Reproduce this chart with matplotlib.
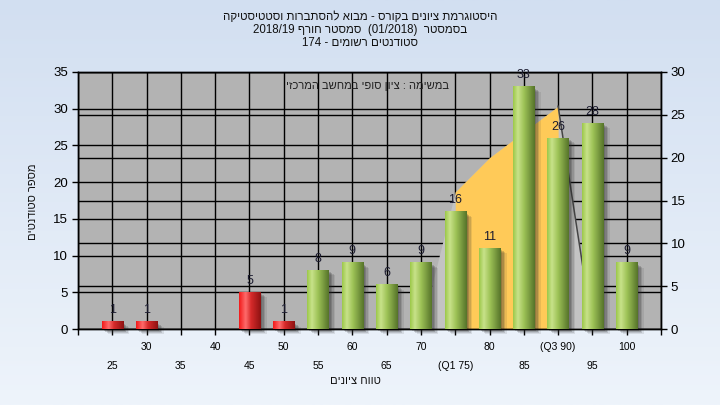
import re
import numpy as np
import matplotlib
matplotlib.use('Agg')
import matplotlib.pyplot as plt
from matplotlib.colors import LinearSegmentedColormap
from matplotlib.patches import Rectangle
from matplotlib.transforms import ScaledTranslation

FONT = ['Liberation Sans', 'DejaVu Sans']
plt.rcParams['font.family'] = FONT

# ---------------- data ----------------
title_lines = ["היסטוגרמת ציונים בקורס - מבוא להסתברות וסטטיסטיקה",
               "בסמסטר  (01/2018)  סמסטר חורף 2018/19",
               "סטודנטים רשומים - 174"]
note_text = "במשימה : ציון סופי במחשב המרכזי"
x_label = "טווח ציונים"
y_label = "מספר סטודנטים"

grades = [25, 30, 35, 40, 45, 50, 55, 60, 65, 70, 75, 80, 85, 90, 95, 100]
counts = [1, 1, 0, 0, 5, 1, 8, 9, 6, 9, 16, 11, 33, 26, 28, 9]
pass_grade = 55

curve_x = [70, 75, 80, 85, 90, 95]
curve_y = [0, 16, 20, 23, 26, 0]
q1, q3 = 75, 90

major_ticks = [20, 30, 40, 50, 60, 70, 80, 90, 100]
major_labels = ['', '30', '40', '50', '60', '70', '80', '(Q3 90)', '100']
minor_ticks = [25, 35, 45, 55, 65, 75, 85, 95, 105]
minor_labels = ['25', '35', '45', '55', '65', '(Q1 75)', '85', '95', '']
left_ticks = [0, 5, 10, 15, 20, 25, 30, 35]
right_ticks = [0, 5, 10, 15, 20, 25, 30]
grid_x = [20, 25, 30, 35, 40, 45, 50, 55, 60, 65, 70, 75, 80, 85, 90, 95, 100, 105]


def visual(s):
    """Logical Hebrew -> visual order (matplotlib draws left to right)."""
    r = s[::-1]
    r = re.sub(r'[0-9A-Za-z/.]+', lambda m: m.group(0)[::-1], r)
    return r.translate(str.maketrans('()', ')('))


# ---------------- figure ----------------
fig = plt.figure(figsize=(7.2, 4.05), dpi=100)
bg = fig.add_axes([0, 0, 1, 1], zorder=-10)
bg.axis('off')
bg.imshow(np.linspace(0, 1, 256).reshape(-1, 1),
          cmap=LinearSegmentedColormap.from_list('bg', ['#D2DFF1', '#EEF4FB']),
          aspect='auto', extent=(0, 1, 0, 1), origin='upper')

ax = fig.add_axes([78 / 720, 1 - 329 / 405, 583 / 720, 257 / 405])
ax2 = ax.twinx()
ax.set_zorder(ax2.get_zorder() + 1)
ax.patch.set_visible(False)
ax2.patch.set_visible(True)
ax2.set_facecolor('#B3B3B3')

# grid lines (under the area)
ax2.hlines(left_ticks, 0, 1, transform=ax.get_yaxis_transform(), colors='black', lw=1, zorder=1)
ax2.hlines(right_ticks, 0, 1, transform=ax2.get_yaxis_transform(), colors='black', lw=1, zorder=1)
ax2.vlines(grid_x, 0, 1, transform=ax2.get_xaxis_transform(), colors='black', lw=1, zorder=1)

# distribution area
cx = np.array(curve_x)
cy = np.array(curve_y)
ax2.fill_between(cx, cy, color='#C3C3C3', lw=0, zorder=2)
ax2.fill_between(cx, cy, where=(cx >= q1) & (cx <= q3), color='#FFCA58', lw=0, zorder=2.1)
k = curve_x.index(q3)
ax2.plot(cx[k:], cy[k:], color='#454545', lw=1.1, zorder=2.2)

# bars
green = LinearSegmentedColormap.from_list('g', [(0, '#9CC84A'), (0.22, '#C8E28A'), (0.5, '#9EC357'), (1, '#56742A')])
red = LinearSegmentedColormap.from_list('r', [(0, '#F21A1A'), (0.3, '#FF6B6B'), (0.55, '#D62A2A'), (1, '#8E1212')])
w = 3.1
for g, c in zip(grades, counts):
    if c == 0:
        continue
    cmap = green if g >= pass_grade else red
    for dx, dy, a in [(2, 2, 0.2), (3.5, 3, 0.2), (5, 4, 0.15), (6.5, 5, 0.10)]:
        ax.add_patch(Rectangle((g - w / 2, 0), w, c,
                               transform=ax.transData + ScaledTranslation(dx / 100, -dy / 100, fig.dpi_scale_trans),
                               facecolor='#2a2a2a', alpha=a, lw=0, zorder=2, clip_on=False))
    ax.imshow(np.linspace(0, 1, 64).reshape(1, -1), cmap=cmap,
              extent=(g - w / 2, g + w / 2, 0, c), aspect='auto', zorder=3,
              interpolation='bilinear')
    ax.annotate(str(c), (g, c), xytext=(0, 4), textcoords='offset points',
                ha='center', va='bottom', fontsize=9, color='#1c1c30', zorder=5)

ax.text(0.496, 0.945, visual(note_text), transform=ax.transAxes, ha='center', va='center',
        fontsize=8, color='#202020', zorder=5)

# axes / ticks
ax.set_xlim(20, 105)
ax.set_ylim(0, 35)
ax2.set_ylim(0, 30)
ax2.set_xlim(20, 105)
ax.set_xticks(major_ticks, major_labels)
ax.set_xticks(minor_ticks, minor_labels, minor=True)
ax.set_yticks(left_ticks)
ax2.set_yticks(right_ticks)
ax.tick_params(axis='x', which='major', length=4, width=1, pad=5, labelsize=7.5)
ax.tick_params(axis='x', which='minor', length=4, width=1, pad=19, labelsize=7.5)
ax.tick_params(axis='y', length=4, width=1, pad=3, labelsize=9.5)
ax2.tick_params(axis='y', length=4, width=1, pad=3, labelsize=9.5)
for a in (ax, ax2):
    for s in a.spines.values():
        s.set_color('black')
        s.set_linewidth(1)

# titles and axis labels
for i, line in enumerate(title_lines):
    fig.text(0.5, 1 - (17 + 13 * i) / 405, visual(line), ha='center', va='center',
             fontsize=8.3, color='#111111')
fig.text(355 / 720, 1 - 381 / 405, visual(x_label), ha='center', va='center', fontsize=8, color='#111111')
fig.text(33 / 720, 1 - 202 / 405, visual(y_label), ha='center', va='center', rotation=90,
         fontsize=8, color='#111111')

fig.savefig('out.png', dpi=100)
